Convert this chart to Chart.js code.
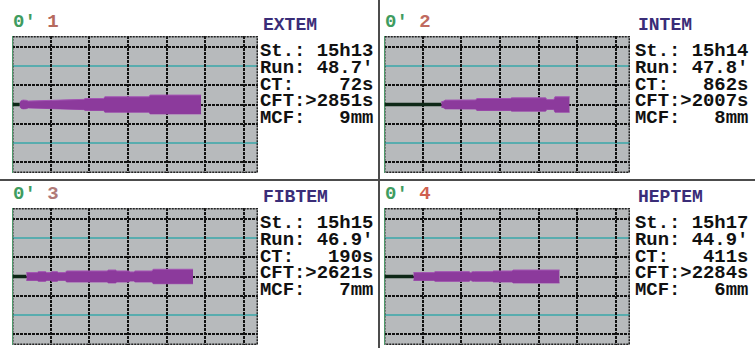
<!DOCTYPE html>
<html>
<head>
<meta charset="utf-8">
<script src="https://cdn.jsdelivr.net/npm/chart.js@4.4.1/dist/chart.umd.min.js"></script>
<style>
  body { margin: 0; background: #fff; }
  #wrap { position: relative; width: 755px; height: 348px; overflow: hidden; background: #fff; }
  canvas { position: absolute; }
  .hdr, .ttl, .stats { position: absolute; font-family: "Liberation Mono", monospace; font-weight: bold; white-space: pre; }
  .hdr { font-size: 19px; line-height: 16.7px; }
  .hdr .zero { color: #3f9c5f; }
  .ttl { font-size: 18px; line-height: 16.7px; color: #3a2d78; }
  .stats { font-size: 18.9px; line-height: 16.7px; color: #111; }
  .div { position: absolute; background: #4c4c4c; }
</style>
</head>
<body>
<div id="wrap">
  <div class="div" style="left:378px; top:0; width:2px; height:348px;"></div>
  <div class="div" style="left:0; top:179px; width:755px; height:2px;"></div>
</div>
<script>
// Données (temps en minutes, amplitude en mm)
const panelNames = ['EXTEM', 'INTEM', 'FIBTEM', 'HEPTEM'];
const panelNumbers = ['1', '2', '3', '4'];
const startTimes = ['15h13', '15h14', '15h15', '15h17'];
const runTimes = ["48.7'", "47.8'", "46.9'", "44.9'"];
const ctValues = ['72s', '862s', '190s', '411s'];
const cftValues = ['>2851s', '>2007s', '>2621s', '>2284s'];
const mcfValues = ['9mm', '8mm', '7mm', '6mm'];

// fin de la ligne noire (début de la formation du caillot)
const ctLineEnd = [2.0, 14.8, 3.7, 7.6];

const traceTimes1 = [2.0, 2.4, 2.9, 3.7, 4.2, 18.6, 18.9, 23.7, 24.0, 35.4, 35.7, 48.9];
const traceAmps1  = [2.4, 4.2, 4.6, 4.4, 3.6, 5.4, 6.3, 6.3, 8.1, 8.1, 9.9, 9.9];

const traceTimes2 = [14.8, 15.5, 15.8, 23.7, 24.0, 32.7, 33.0, 41.8, 42.1, 43.9, 44.2, 48.0];
const traceAmps2  = [2.8, 3.6, 4.6, 4.8, 6.3, 6.3, 7.0, 7.0, 5.2, 5.2, 8.1, 8.1];

const traceTimes3 = [3.7, 6.5, 6.8, 8.7, 9.0, 10.0, 10.3, 11.7, 12.0, 13.8, 14.1, 24.6, 24.9, 26.8, 27.1, 30.2, 30.5, 31.5, 31.8, 36.2, 36.5, 46.8];
const traceAmps3  = [4.1, 4.1, 5.1, 5.1, 4.1, 4.1, 5.1, 5.1, 4.1, 4.1, 5.8, 5.8, 6.8, 6.8, 5.8, 5.8, 4.8, 4.8, 5.8, 5.8, 7.6, 7.6];

const traceTimes4 = [7.6, 12.9, 13.2, 22.0, 22.4, 22.9, 23.4, 28.0, 28.3, 33.1, 33.4, 45.4];
const traceAmps4  = [4.1, 4.1, 5.1, 5.1, 4.0, 5.1, 5.1, 5.1, 5.8, 5.8, 6.8, 6.8];

const traceTimes = [traceTimes1, traceTimes2, traceTimes3, traceTimes4];
const traceAmps = [traceAmps1, traceAmps2, traceAmps3, traceAmps4];

// graduations de la grille
const timeGrid = [10, 20, 30, 40, 50, 60];
const ampGridDark = [-60, -20, 20, 60];
const ampGridTeal = [-40, 40];
const timeMax = 63.6;
const ampMax = 72;

const numberColors = ['#b66a5e', '#c06a60', '#b07a78', '#cf5f50'];

// positions des panneaux
const layout = [
    { px: 12, py: 36, tx: 260 },
    { px: 384, py: 36, tx: 635 },
    { px: 12, py: 208, tx: 260 },
    { px: 384, py: 208, tx: 635 }
];

const rotemGrid = {
    id: 'rotemGrid',
    beforeDatasetsDraw(chart) {
        const { ctx, chartArea: a, scales: { x, y } } = chart;
        ctx.save();
        ctx.fillStyle = '#b7babc';
        ctx.fillRect(a.left, a.top, a.right - a.left, a.bottom - a.top);

        ctx.strokeStyle = '#58acae';
        ctx.lineWidth = 2;
        ampGridTeal.forEach(v => {
            const py = Math.round(y.getPixelForValue(v));
            ctx.beginPath(); ctx.moveTo(a.left, py); ctx.lineTo(a.right, py); ctx.stroke();
        });

        ctx.strokeStyle = '#111';
        ctx.lineWidth = 2;
        ctx.setLineDash([3, 1]);
        ampGridDark.concat([0]).forEach(v => {
            const py = Math.round(y.getPixelForValue(v));
            ctx.beginPath(); ctx.moveTo(a.left, py); ctx.lineTo(a.right, py); ctx.stroke();
        });
        timeGrid.forEach(v => {
            const px = Math.round(x.getPixelForValue(v));
            ctx.beginPath(); ctx.moveTo(px, a.top); ctx.lineTo(px, a.bottom); ctx.stroke();
        });
        // bordure pointillée
        ctx.lineWidth = 1.5;
        ctx.strokeStyle = '#222';
        ctx.setLineDash([2, 1]);
        ctx.strokeRect(a.left + 0.75, a.top + 0.75, a.right - a.left - 1.5, a.bottom - a.top - 1.5);
        ctx.setLineDash([]);
        ctx.lineWidth = 1;
        ctx.strokeStyle = '#4e9a6a';
        ctx.beginPath(); ctx.moveTo(a.left + 0.5, a.top); ctx.lineTo(a.left + 0.5, a.bottom); ctx.stroke();
        ctx.restore();
    }
};

const wrap = document.getElementById('wrap');

function addText(cls, left, top, html) {
    const d = document.createElement('div');
    d.className = cls;
    d.style.left = left + 'px';
    d.style.top = top + 'px';
    d.innerHTML = html;
    wrap.appendChild(d);
}

function padLine(label, value) {
    return label + value.padStart(10 - label.length, ' ');
}

panelNames.forEach((name, i) => {
    const p = layout[i];

    addText('hdr', p.px + 1, p.py - 22.4,
        `<span class="zero">0'</span> <span style="color:${numberColors[i]}">${panelNumbers[i]}</span>`);
    addText('ttl', p.tx + 3, p.py - 19, name);
    const lines = [
        padLine('St.:', startTimes[i]),
        padLine('Run:', runTimes[i]),
        padLine('CT:', ctValues[i]),
        padLine('CFT:', cftValues[i]),
        padLine('MCF:', mcfValues[i])
    ];
    addText('stats', p.tx, p.py + 7.3, lines.join('\n'));

    const canvas = document.createElement('canvas');
    canvas.width = 246;
    canvas.height = 137;
    canvas.style.left = p.px + 'px';
    canvas.style.top = p.py + 'px';
    wrap.appendChild(canvas);

    const times = traceTimes[i];
    const amps = traceAmps[i];

    new Chart(canvas, {
        type: 'line',
        data: {
            datasets: [
                {
                    data: times.map((t, k) => ({ x: t, y: amps[k] })),
                    borderColor: '#a455b4',
                    borderWidth: 1,
                    backgroundColor: '#8c3a9c',
                    fill: '+1',
                    pointRadius: 0,
                    tension: 0
                },
                {
                    data: times.map((t, k) => ({ x: t, y: -amps[k] })),
                    borderColor: '#a455b4',
                    borderWidth: 1,
                    fill: false,
                    pointRadius: 0,
                    tension: 0
                },
                {
                    data: [{ x: 0.2, y: 0 }, { x: ctLineEnd[i], y: 0 }],
                    borderColor: '#0e2817',
                    borderWidth: 3.5,
                    fill: false,
                    pointRadius: 0
                }
            ]
        },
        options: {
            responsive: false,
            animation: false,
            layout: { padding: 0 },
            plugins: { legend: { display: false }, tooltip: { enabled: false } },
            scales: {
                x: { type: 'linear', min: 0, max: timeMax, display: false },
                y: { type: 'linear', min: -ampMax, max: ampMax, display: false }
            }
        },
        plugins: [rotemGrid]
    });
});
</script>
</body>
</html>
